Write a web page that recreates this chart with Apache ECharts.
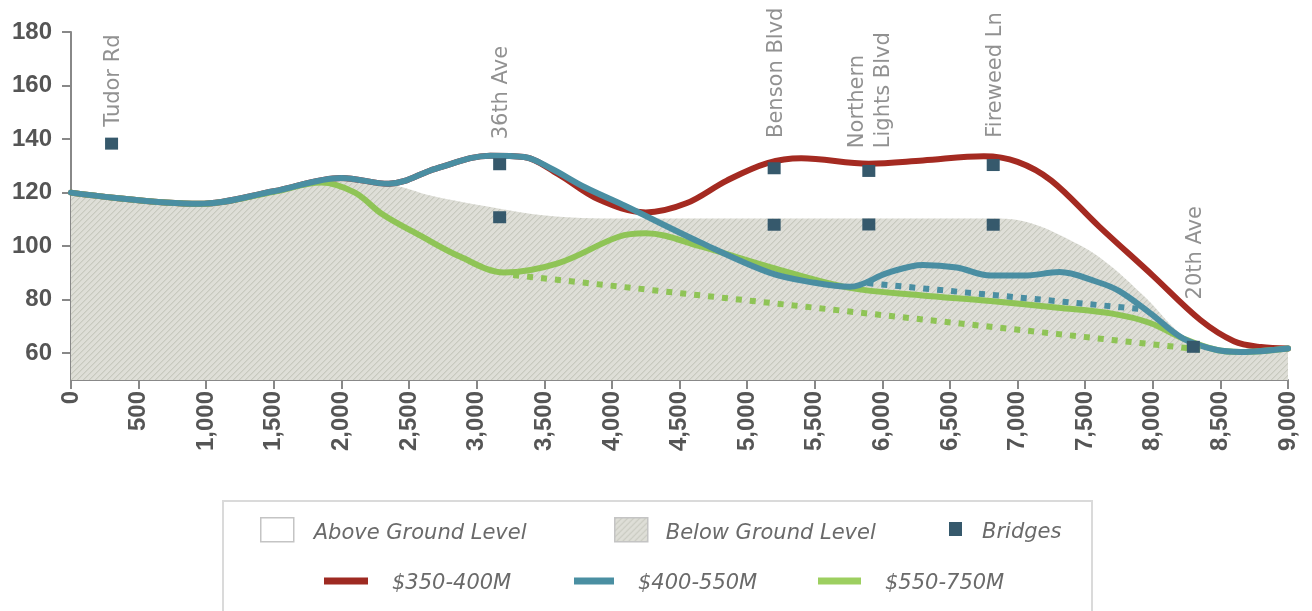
<!DOCTYPE html>
<html>
<head>
<meta charset="utf-8">
<script src="https://cdn.jsdelivr.net/npm/echarts@6/dist/echarts.min.js"></script>
<style>
  html, body { margin: 0; padding: 0; background: #ffffff; }
  #chart { width: 1312px; height: 611px; }
</style>
</head>
<body>
<div id="chart"></div>
<script>
// Elevation profile (distance along corridor vs elevation) for three cost options.

// Ground surface profile: [distance, elevation]
const groundProfile = [
  [0, 119.6], [950, 115.2], [1500, 120], [2000, 124.6], [2400, 122.6], [2650, 119],
  [2900, 116.4], [3170, 114], [3470, 111.6], [3700, 110.7], [4000, 110.3], [5000, 110.3],
  [6000, 110.3], [6850, 110.3], [7100, 108.6], [7350, 103.2], [7620, 95.3], [7950, 80.6],
  [8200, 67.5], [8420, 62], [8650, 61], [9000, 61.5]
];

// $350-400M alignment
const option350 = [
  [0, 120], [950, 115.8], [1500, 120.5], [2000, 125.5], [2350, 123.3], [2700, 129],
  [3100, 133.8], [3350, 133.3], [3600, 127], [3900, 117.5], [4250, 112.6], [4550, 116],
  [4850, 124.5], [5150, 131], [5400, 132.8], [5900, 130.8], [6300, 132], [6750, 133.6],
  [7000, 131.5], [7250, 124.5], [7600, 107.5], [8000, 89], [8350, 72.5], [8600, 64.5],
  [8800, 62.3], [9000, 61.8]
];

// $400-550M alignment
const option400 = [
  [0, 120], [950, 115.8], [1500, 120.5], [2000, 125.5], [2350, 123.3], [2700, 129],
  [3100, 133.8], [3350, 133.3], [3550, 129], [3800, 122], [4100, 115], [4650, 101.5],
  [5170, 90], [5500, 86.3], [5760, 84.8], [6040, 90], [6300, 93], [6550, 92], [6800, 89],
  [7050, 89], [7310, 90.3], [7580, 86.8], [7750, 83.3], [7980, 75], [8225, 65.5],
  [8475, 61.2], [8650, 60.5], [9000, 61.8]
];

// $550-750M alignment
const option550 = [
  [0, 120], [950, 115.8], [1500, 120.3], [1850, 123.8], [2100, 120], [2300, 112],
  [2580, 104], [2880, 96], [3200, 90.2], [3600, 93.6], [4050, 103.5], [4250, 104.8],
  [4650, 100], [5170, 92.2], [5760, 84.4], [6280, 81.7], [6800, 79.5], [7300, 77],
  [7700, 74.8], [7980, 71.3], [8225, 65.5], [8475, 61.2], [8650, 60.5], [9000, 61.8]
];

// Alternative (dotted) segments
const option400Alt = [[5890, 86.2], [7950, 76.3]];
const option550Alt = [[3270, 89.2], [8350, 61.4]];

// Bridge crossings: [distance, elevation]
const bridges = [
  [300, 138.3], [3170, 130.6], [3170, 110.8], [5200, 129.1], [5200, 108.0],
  [5900, 128.1], [5900, 108.1], [6820, 130.3], [6820, 108.0], [8300, 62.4]
];

// Cross streets
const streetNames = ['Tudor Rd', '36th Ave', 'Benson Blvd', 'Northern\nLights Blvd', 'Fireweed Ln', '20th Ave'];
const streetDist = [300, 3170, 5200, 5900, 6820, 8300];

const yTickValues = [60, 80, 100, 120, 140, 160, 180];

const seriesNames = ['$350-400M', '$400-550M', '$550-750M'];

// ---- styling / layout ----
const COLORS = { red: '#a42a21', teal: '#4a8ea2', green: '#8fc456', bridge: '#36596c' };
const streetLabelElev = [144.6, 139.9, 140.4, 136.6, 140.5, 80.1];

function hatchPattern() {
  const n = 6;
  const c = document.createElement('canvas');
  c.width = n; c.height = n;
  const ctx = c.getContext('2d');
  const img = ctx.createImageData(n, n);
  for (let y = 0; y < n; y++) {
    for (let x = 0; x < n; x++) {
      const k = (x + y) % n;
      let col;
      if (k === 0) col = [200, 201, 191];
      else if (k === 1) col = [211, 212, 203];
      else col = [222, 222, 215];
      const i = (y * n + x) * 4;
      img.data[i] = col[0]; img.data[i + 1] = col[1]; img.data[i + 2] = col[2]; img.data[i + 3] = 255;
    }
  }
  ctx.putImageData(img, 0, 0);
  return { image: c, repeat: 'repeat' };
}
const hatch = hatchPattern();

const legendText = {
  fontFamily: 'DejaVu Sans', fontSize: 21, fontStyle: 'italic', color: '#6a6a6a'
};

// Legend swatch of size w x h drawn at the top of a (w x boxH) symbol box,
// so the label (centred on the box) sits slightly below the swatch centre.
function swatch(w, h, boxH) {
  return 'path://M0,0M' + w + ',' + boxH + 'M0,0H' + w + 'V' + h + 'H0Z';
}

function legendItem(name, left, top, w, h, boxH, itemStyle, gap) {
  return {
    data: [{ name: name, icon: swatch(w, h, boxH), itemStyle: itemStyle }],
    left: left, top: top, itemWidth: w, itemHeight: boxH, padding: 0,
    selectedMode: false,
    textStyle: Object.assign({ padding: [0, 0, 0, gap] }, legendText)
  };
}

const chart = echarts.init(document.getElementById('chart'), null, { renderer: 'canvas' });

const solidLine = (name, data, color, z) => ({
  name: name, type: 'line', data: data, smooth: 0.35, symbol: 'none', z: z,
  lineStyle: { color: color, width: 6, cap: 'round' },
  itemStyle: { color: color }
});
const dottedLine = (data, color, z) => ({
  type: 'line', data: data, symbol: 'none', z: z, silent: true,
  lineStyle: { color: color, width: 6, type: [6, 8], cap: 'butt' }
});

chart.setOption({
  animation: false,
  backgroundColor: '#ffffff',
  grid: { left: 71, right: 24, top: 32, bottom: 231, containLabel: false },
  xAxis: {
    type: 'value', min: 0, max: 9000, interval: 500,
    axisLine: { show: true, lineStyle: { color: '#888', width: 2 } },
    axisTick: { show: true, length: 9, lineStyle: { color: '#888', width: 2 } },
    splitLine: { show: false },
    axisLabel: {
      rotate: 90, margin: 11, color: '#555',
      fontFamily: 'Liberation Sans', fontWeight: 'bold', fontSize: 24,
      formatter: v => v.toLocaleString('en-US')
    }
  },
  yAxis: {
    type: 'value', min: 50, max: 180,
    axisLine: { show: true, lineStyle: { color: '#888', width: 2 } },
    axisTick: { show: true, length: 9, customValues: yTickValues, lineStyle: { color: '#888', width: 2 } },
    splitLine: { show: false },
    axisLabel: {
      customValues: yTickValues, margin: 19, color: '#555',
      fontFamily: 'Liberation Sans', fontWeight: 'bold', fontSize: 24
    }
  },
  legend: [
    legendItem('Above Ground Level', 260, 517, 33, 24, 32,
      { color: '#ffffff', borderColor: '#c4c4c4', borderWidth: 1.5 }, 15),
    legendItem('Below Ground Level', 614, 517, 33, 24, 32,
      { color: hatch, borderColor: '#c4c4c4', borderWidth: 1.5 }, 13),
    legendItem('Bridges', 949, 522, 13, 14, 22,
      { color: COLORS.bridge, borderWidth: 0 }, 15),
    legendItem(seriesNames[0], 324, 573, 44, 7, 12, { color: '#9e2a22', borderWidth: 0 }, 19),
    legendItem(seriesNames[1], 574, 573, 40, 7, 12, { color: '#4a8fa2', borderWidth: 0 }, 19),
    legendItem(seriesNames[2], 818, 573, 43, 7, 12, { color: '#9dcf60', borderWidth: 0 }, 19)
  ],
  graphic: [{
    type: 'rect', z: -10, silent: true,
    shape: { x: 223, y: 501, width: 869, height: 140 },
    style: { fill: '#ffffff', stroke: '#dadada', lineWidth: 2 }
  }],
  series: [
    { name: 'Above Ground Level', type: 'line', data: [], symbol: 'none' },
    {
      name: 'Below Ground Level', type: 'line', data: groundProfile, smooth: 0.35,
      symbol: 'none', z: 1, silent: true,
      lineStyle: { width: 0 },
      areaStyle: { color: hatch, opacity: 1, origin: 'start' }
    },
    solidLine(seriesNames[0], option350, COLORS.red, 2),
    solidLine(seriesNames[2], option550, COLORS.green, 3),
    solidLine(seriesNames[1], option400, COLORS.teal, 4),
    dottedLine(option400Alt, COLORS.teal, 5),
    dottedLine(option550Alt, COLORS.green, 5),
    {
      name: 'Bridges', type: 'scatter', data: bridges, symbol: 'rect', symbolSize: [13, 12], z: 6,
      itemStyle: { color: COLORS.bridge, opacity: 1 }
    },
    {
      type: 'scatter', z: 7, silent: true, symbolSize: 1,
      data: streetDist.map((d, i) => [d, streetLabelElev[i]]),
      itemStyle: { color: 'rgba(0,0,0,0)' },
      label: {
        show: true, position: 'inside', rotate: 90, align: 'left', verticalAlign: 'middle',
        offset: [0, 2],
        formatter: p => streetNames[p.dataIndex],
        fontFamily: 'DejaVu Sans', fontSize: 21, lineHeight: 26, color: '#757575'
      }
    }
  ]
});
</script>
</body>
</html>
